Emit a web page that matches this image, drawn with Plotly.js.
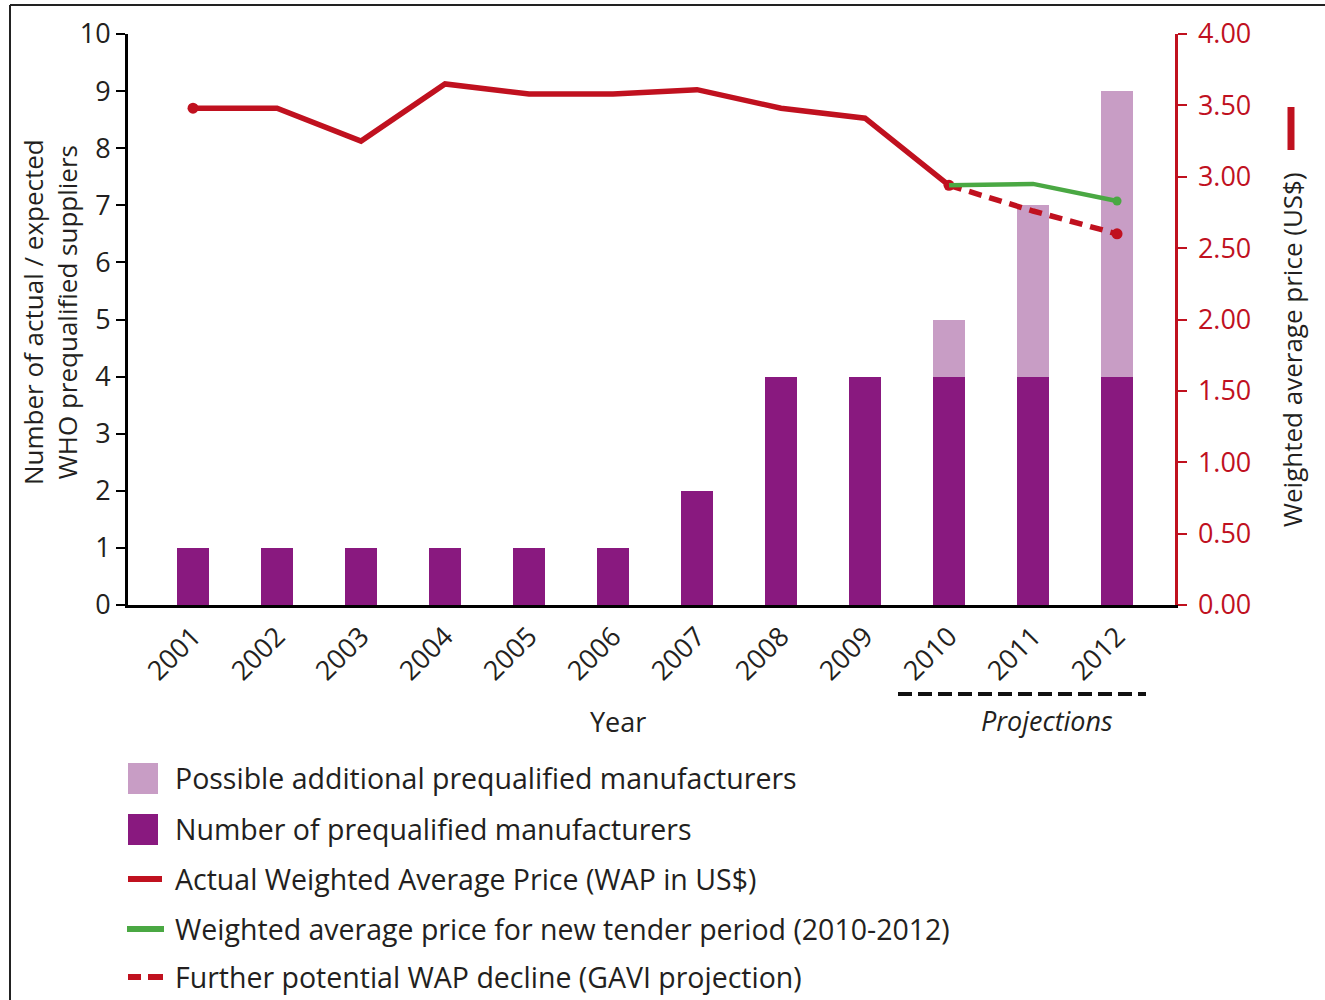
<!DOCTYPE html>
<html>
<head>
<meta charset="utf-8">
<script src="https://cdn.plot.ly/plotly-3.0.1.min.js"></script>
<style>
  html, body { margin: 0; padding: 0; background: #ffffff; }
  #chart { width: 1325px; height: 1000px; }
</style>
</head>
<body>
<div id="chart"></div>
<script>
// ---- data ----
const years = [2001, 2002, 2003, 2004, 2005, 2006, 2007, 2008, 2009, 2010, 2011, 2012];
const prequalifiedManufacturers = [1, 1, 1, 1, 1, 1, 2, 4, 4, 4, 4, 4];
const possibleAdditional = [0, 0, 0, 0, 0, 0, 0, 0, 0, 1, 3, 5];

const actualYears = [2001, 2002, 2003, 2004, 2005, 2006, 2007, 2008, 2009, 2010];
const actualWap = [3.48, 3.48, 3.25, 3.65, 3.58, 3.58, 3.61, 3.48, 3.41, 2.94];

const tenderYears = [2010, 2011, 2012];
const tenderWap = [2.94, 2.95, 2.83];

const gaviYears = [2010, 2011, 2012];
const gaviWap = [2.94, 2.76, 2.60];

const supplierTicks = [0, 1, 2, 3, 4, 5, 6, 7, 8, 9, 10];
const priceTicks = [0, 0.5, 1, 1.5, 2, 2.5, 3, 3.5, 4];

const legendLabels = [
  'Possible additional prequalified manufacturers',
  'Number of prequalified manufacturers',
  'Actual Weighted Average Price (WAP in US$)',
  'Weighted average price for new tender period (2010-2012)',
  'Further potential WAP decline (GAVI projection)'
];

// ---- styling ----
const PURPLE = '#89197f';
const PINK = '#c89dc5';
const RED = '#c0111f';
const GREEN = '#4aa843';
const TEXT = '#231f20';
const FONT = 'Open Sans, Noto Sans, sans-serif';

// plot area in page pixels: left 128, right 1175, top 34, bottom 605
const PL = 128, PR = 1175, PT = 34, PB = 605;
const px = v => (v - PL) / (PR - PL);
const py = v => (PB - v) / (PB - PT);

// markers only at the ends of each line
const endMarkers = (n, size) => Array.from({length: n}, (_, i) => (i === 0 || i === n - 1) ? size : 0);

const traces = [
  {
    type: 'bar', x: years, y: prequalifiedManufacturers, width: 0.38,
    marker: {color: PURPLE}, name: legendLabels[1], hoverinfo: 'x+y'
  },
  {
    type: 'bar', x: years, y: possibleAdditional, width: 0.38,
    marker: {color: PINK}, name: legendLabels[0], hoverinfo: 'x+y'
  },
  {
    type: 'scatter', mode: 'lines+markers', x: actualYears, y: actualWap, yaxis: 'y2',
    line: {color: RED, width: 5.5},
    marker: {color: RED, opacity: 1, line: {width: 0}, size: endMarkers(actualYears.length, 11)},
    name: legendLabels[2]
  },
  {
    type: 'scatter', mode: 'lines+markers', x: gaviYears, y: gaviWap, yaxis: 'y2',
    line: {color: RED, width: 5.5, dash: '13px,8px'},
    marker: {color: RED, opacity: 1, line: {width: 0}, size: [0, 0, 11]},
    name: legendLabels[4]
  },
  {
    type: 'scatter', mode: 'lines+markers', x: tenderYears, y: tenderWap, yaxis: 'y2',
    line: {color: GREEN, width: 4.5},
    marker: {color: GREEN, opacity: 1, line: {width: 0}, size: [0, 0, 9]},
    name: legendLabels[3]
  }
];

const tickFont = {family: FONT, size: 27, color: TEXT};

// legend drawn below the plot
const legendRows = [778, 829, 879, 929, 977];
const shapes = [];
const annotations = [];

// bar swatches
shapes.push({type: 'rect', xref: 'paper', yref: 'paper', x0: px(128), x1: px(158), y0: py(763), y1: py(794),
  fillcolor: PINK, line: {width: 0}});
shapes.push({type: 'rect', xref: 'paper', yref: 'paper', x0: px(128), x1: px(158), y0: py(814), y1: py(845),
  fillcolor: PURPLE, line: {width: 0}});
// line swatches
shapes.push({type: 'line', xref: 'paper', yref: 'paper', x0: px(128), x1: px(162), y0: py(legendRows[2]), y1: py(legendRows[2]),
  line: {color: RED, width: 6}});
shapes.push({type: 'line', xref: 'paper', yref: 'paper', x0: px(127), x1: px(164), y0: py(legendRows[3]), y1: py(legendRows[3]),
  line: {color: GREEN, width: 6}});
shapes.push({type: 'line', xref: 'paper', yref: 'paper', x0: px(128), x1: px(141), y0: py(legendRows[4]), y1: py(legendRows[4]),
  line: {color: RED, width: 6}});
shapes.push({type: 'line', xref: 'paper', yref: 'paper', x0: px(148), x1: px(163), y0: py(legendRows[4]), y1: py(legendRows[4]),
  line: {color: RED, width: 6}});

legendLabels.forEach((label, i) => {
  annotations.push({
    xref: 'paper', yref: 'paper', x: px(173), y: py(legendRows[i]),
    xanchor: 'left', yanchor: 'middle', showarrow: false,
    text: label, font: {family: FONT, size: 28.5, color: TEXT}
  });
});

// projections marker under the last three years
shapes.push({type: 'line', xref: 'paper', yref: 'paper', x0: px(898), x1: px(1146), y0: py(694), y1: py(694),
  line: {color: '#111111', width: 4, dash: '14px,6px'}});
annotations.push({xref: 'paper', yref: 'paper', x: px(1047), y: py(720), showarrow: false,
  xanchor: 'center', yanchor: 'middle', text: '<i>Projections</i>', font: {family: FONT, size: 27, color: TEXT}});

// axis titles
annotations.push({xref: 'paper', yref: 'paper', x: px(618), y: py(721), showarrow: false,
  xanchor: 'center', yanchor: 'middle', text: 'Year', font: {family: FONT, size: 27, color: TEXT}});
annotations.push({xref: 'paper', yref: 'paper', x: px(50), y: py(312), showarrow: false, textangle: -90,
  xanchor: 'center', yanchor: 'middle',
  text: 'Number of actual / expected<br>WHO prequalified suppliers',
  font: {family: FONT, size: 26, color: TEXT}});
annotations.push({xref: 'paper', yref: 'paper', x: px(1292), y: py(350), showarrow: false, textangle: -90,
  xanchor: 'center', yanchor: 'middle', text: 'Weighted average price (US$)',
  font: {family: FONT, size: 26, color: TEXT}});

// red key mark beside the price axis title
shapes.push({type: 'line', xref: 'paper', yref: 'paper', x0: px(1291), x1: px(1291), y0: py(107), y1: py(150),
  line: {color: RED, width: 7}});

// frame
shapes.push({type: 'line', xref: 'paper', yref: 'paper', x0: px(10), x1: px(1330), y0: py(5), y1: py(5),
  line: {color: '#222222', width: 2}});
shapes.push({type: 'line', xref: 'paper', yref: 'paper', x0: px(10), x1: px(10), y0: py(5), y1: py(1005),
  line: {color: '#222222', width: 2}});

const layout = {
  width: 1325, height: 1000,
  margin: {l: PL, r: 1325 - PR, t: PT, b: 1000 - PB, pad: 0},
  paper_bgcolor: '#ffffff', plot_bgcolor: '#ffffff',
  barmode: 'stack',
  showlegend: false,
  font: {family: FONT, color: TEXT},
  xaxis: {
    range: [2000.226, 2012.69], tickvals: years, ticktext: years.map(String),
    tickangle: -45, tickfont: tickFont, ticks: '', ticklabelstandoff: 2,
    showline: true, linecolor: '#000000', linewidth: 3,
    showgrid: false, zeroline: false, fixedrange: true
  },
  yaxis: {
    range: [0, 10], tickvals: supplierTicks, ticktext: supplierTicks.map(String),
    ticks: 'outside', ticklen: 9, tickwidth: 2, tickcolor: '#000000',
    showline: true, linecolor: '#000000', linewidth: 3,
    showgrid: false, zeroline: false, tickfont: tickFont, fixedrange: true
  },
  yaxis3: {
    overlaying: 'y', side: 'left', range: [0, 10], tickvals: [1, 3, 5, 7, 9],
    showgrid: true, gridcolor: '#bdbdbd', gridwidth: 2,
    showticklabels: false, ticks: '', showline: false, zeroline: false
  },
  yaxis4: {
    overlaying: 'y', side: 'left', range: [0, 10], tickvals: [2, 4, 6, 8, 10],
    showgrid: true, gridcolor: '#7d7d7d', gridwidth: 2.5,
    showticklabels: false, ticks: '', showline: false, zeroline: false
  },
  yaxis2: {
    overlaying: 'y', side: 'right', range: [0, 4],
    tickvals: priceTicks, ticktext: priceTicks.map(v => v.toFixed(2)),
    ticks: 'outside', ticklen: 9, tickwidth: 2, tickcolor: RED, ticklabelstandoff: 6,
    showline: true, linecolor: RED, linewidth: 2.5,
    showgrid: false, zeroline: false,
    tickfont: {family: FONT, size: 27, color: RED}, fixedrange: true
  },
  shapes: shapes,
  annotations: annotations
};

Plotly.newPlot('chart', traces, layout, {displayModeBar: false, staticPlot: true});
</script>
</body>
</html>
